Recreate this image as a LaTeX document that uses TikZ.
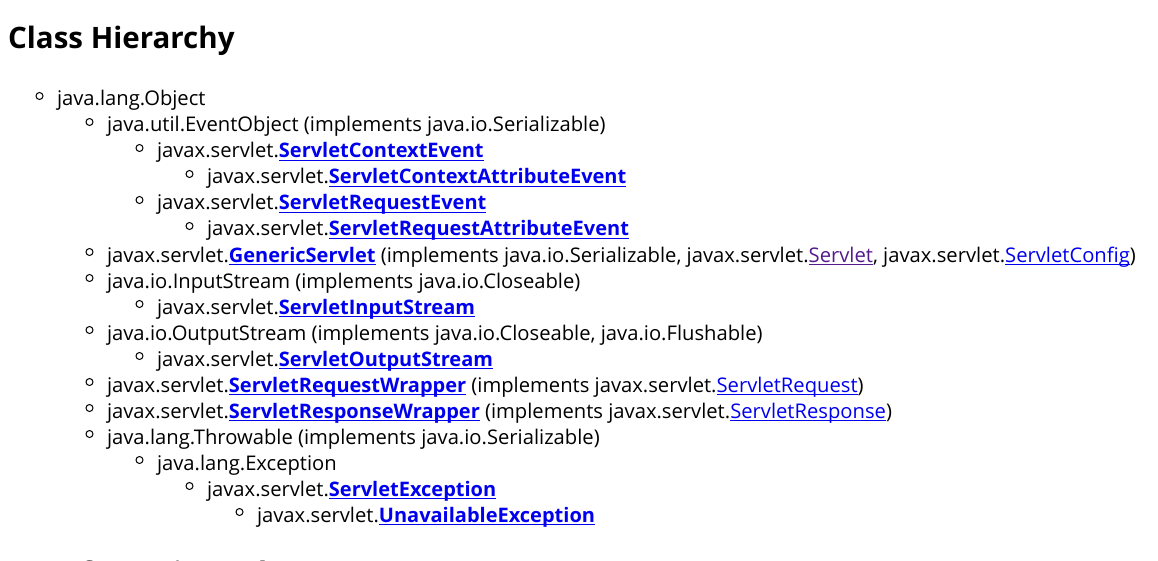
\documentclass[tikz,border=0pt]{standalone}
\usepackage{fontspec}
\setmainfont{Open Sans}
\definecolor{lb}{RGB}{0,0,238}
\definecolor{lv}{RGB}{85,26,139}
\newcommand{\ulx}[1]{\setbox0\hbox{#1}\rlap{\rule[-3pt]{\wd0}{1.2pt}}\box0}
\newcommand{\lnk}[1]{{\color{lb}\fontsize{20}{24}\selectfont\bfseries\ulx{#1}}}
\newcommand{\plk}[1]{{\color{lb}\ulx{#1}}}
\newcommand{\vlk}[1]{{\color{lv}\ulx{#1}}}
\tikzset{
  txt/.style={anchor=base west, inner sep=0pt, outer sep=0pt, font=\fontsize{20.2}{24}\selectfont},
  bul/.style={circle, draw=black, line width=1pt, minimum size=7pt, inner sep=0pt},
  ttl/.style={anchor=base west, inner sep=0pt, font=\fontsize{29.5}{34}\selectfont\bfseries}
}
\begin{document}
\begin{tikzpicture}[x=1pt,y=-1pt]
\fill[white] (0,0) rectangle (1158,561);
\useasboundingbox (0,0) rectangle (1158,561);
\clip (0,0) rectangle (1158,561);
\node[ttl] (title) at (8,49) {Class Hierarchy};
\foreach \lv/\by/\nm/\t in {
 1/106/l1/{java.lang.Object},
 2/132/l2/{java.util.EventObject (implements java.io.Serializable)},
 3/158/l3/{javax.servlet.\lnk{ServletContextEvent}},
 4/184/l4/{javax.servlet.\lnk{ServletContextAttributeEvent}},
 3/210/l5/{javax.servlet.\lnk{ServletRequestEvent}},
 4/236/l6/{javax.servlet.\lnk{ServletRequestAttributeEvent}},
 2/262/l7/{javax.servlet.\lnk{GenericServlet} (implements java.io.Serializable, javax.servlet.\vlk{Servlet}, javax.servlet.\plk{ServletConfig})},
 2/288/l8/{java.io.InputStream (implements java.io.Closeable)},
 3/314/l9/{javax.servlet.\lnk{ServletInputStream}},
 2/340/l10/{java.io.OutputStream (implements java.io.Closeable, java.io.Flushable)},
 3/366/l11/{javax.servlet.\lnk{ServletOutputStream}},
 2/392/l12/{javax.servlet.\lnk{ServletRequestWrapper} (implements javax.servlet.\plk{ServletRequest})},
 2/418/l13/{javax.servlet.\lnk{ServletResponseWrapper} (implements javax.servlet.\plk{ServletResponse})},
 2/444/l14/{java.lang.Throwable (implements java.io.Serializable)},
 3/470/l15/{java.lang.Exception},
 4/496/l16/{javax.servlet.\lnk{ServletException}},
 5/522/l17/{javax.servlet.\lnk{UnavailableException}}}
{
  \node[bul] (b\nm) at ({50*\lv-10.5},\by-10) {};
  \node[txt] (\nm) at ({50*\lv+7},\by) {\t};
}
\node[ttl] (title2) at (8,583) {Interface Hierarchy};
\end{tikzpicture}
\end{document}
